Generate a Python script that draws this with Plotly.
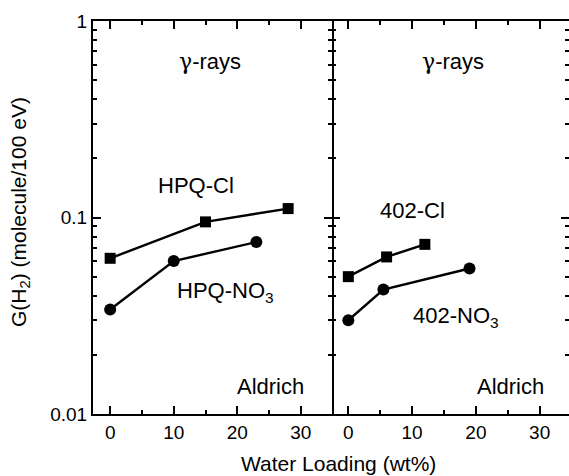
import plotly.graph_objects as go

# ---- data ----
hpq_cl_x = [0, 15, 28]
hpq_cl_y = [0.062, 0.095, 0.111]
hpq_no3_x = [0, 10, 23]
hpq_no3_y = [0.034, 0.060, 0.075]
s402_cl_x = [0, 6, 12]
s402_cl_y = [0.050, 0.063, 0.073]
s402_no3_x = [0, 5.5, 19]
s402_no3_y = [0.030, 0.043, 0.055]

y_tick_vals = [0.01, 0.1, 1]
y_tick_text = ["0.01", "0.1", "1"]
x_tick_vals = [0, 10, 20, 30]
x_minor_vals = [5, 15, 25]
y_minor_vals = [m * 10.0 ** e for e in (-2, -1) for m in range(2, 10)]

FONT = "Liberation Sans, Arial, Helvetica, sans-serif"
BLACK = "black"

fig = go.Figure()

def add_series(x, y, symbol, xa, ya):
    fig.add_trace(go.Scatter(
        x=x, y=y, mode="lines+markers",
        line=dict(color=BLACK, width=2.4),
        marker=dict(symbol=symbol, size=12 if symbol == "circle" else 11, color=BLACK),
        xaxis=xa, yaxis=ya, showlegend=False, hoverinfo="skip"))

add_series(hpq_cl_x, hpq_cl_y, "square", "x", "y")
add_series(hpq_no3_x, hpq_no3_y, "circle", "x", "y")
add_series(s402_cl_x, s402_cl_y, "square", "x2", "y2")
add_series(s402_no3_x, s402_no3_y, "circle", "x2", "y2")

# empty traces so that the overlay (minor-tick) subplots get drawn
for xa, ya in (("x3", "y3"), ("x4", "y4")):
    fig.add_trace(go.Scatter(x=[], y=[], xaxis=xa, yaxis=ya, showlegend=False,
                             hoverinfo="skip"))

tickfont = dict(family=FONT, size=19, color=BLACK)

def x_axis(rng, domain, anchor, vals, length, labels, overlay=None):
    d = dict(range=rng, anchor=anchor, tickmode="array", tickvals=vals,
             ticks="inside", ticklen=length, tickwidth=1.5, tickcolor=BLACK,
             showline=True, linewidth=2, linecolor=BLACK, mirror="ticks",
             showgrid=False, zeroline=False, showticklabels=labels, tickfont=tickfont)
    if overlay:
        d["overlaying"] = overlay
    else:
        d["domain"] = domain
    return d

def y_axis(anchor, vals, length, labels, line, overlay=None):
    d = dict(type="log", range=[-2, 0], anchor=anchor, tickmode="array", tickvals=vals,
             ticks="inside", ticklen=length, tickwidth=1.5, tickcolor=BLACK,
             showline=line, linewidth=2, linecolor=BLACK, mirror="ticks",
             showgrid=False, zeroline=False, showticklabels=labels, tickfont=tickfont)
    if labels:
        d["ticktext"] = y_tick_text
    if overlay:
        d["overlaying"] = overlay
    return d

split = (332 - 93) / 476.0
r1 = [-2.7, 34.9]
r2 = [-2.56, 34.6]

fig.update_layout(
    width=569, height=476,
    margin=dict(l=93, r=0, t=21, b=62),
    paper_bgcolor="white", plot_bgcolor="white",
    font=dict(family=FONT, color=BLACK),
    xaxis=x_axis(r1, [0, split], "y", x_tick_vals, 8, True),
    xaxis2=x_axis(r2, [split, 1], "y2", x_tick_vals, 8, True),
    xaxis3=x_axis(r1, None, "y3", x_minor_vals, 4, False, overlay="x"),
    xaxis4=x_axis(r2, None, "y4", x_minor_vals, 4, False, overlay="x2"),
    yaxis=y_axis("x", y_tick_vals, 8, True, True),
    yaxis2=y_axis("x2", y_tick_vals, 8, False, False),
    yaxis3=y_axis("x3", y_minor_vals, 4, False, True, overlay="y"),
    yaxis4=y_axis("x4", y_minor_vals, 4, False, False, overlay="y2"),
)

ann_font = dict(family=FONT, size=22, color=BLACK)
gamma = "<span style='font-family:DejaVu Serif'>γ</span>-rays"
anns = [
    ("x", "y", 15.7, -0.2036, gamma, "center"),
    ("x2", "y2", 16.4, -0.2036, gamma, "center"),
    ("x", "y", 13.5, -0.8346, "HPQ-Cl", "center"),
    ("x", "y", 10.2, -1.38, "HPQ-NO<sub>3</sub>", "left"),
    ("x2", "y2", 9.8, -1.505, "402-NO<sub>3</sub>", "left"),
    ("x2", "y2", 10.1, -0.9654, "402-Cl", "center"),
    ("x", "y", 25.2, -1.861, "Aldrich", "center"),
    ("x2", "y2", 25.4, -1.861, "Aldrich", "center"),
]
for xr, yr, ax, ay, txt, xanc in anns:
    fig.add_annotation(xref=xr, yref=yr, x=ax, y=ay, text=txt, showarrow=False,
                       xanchor=xanc, yanchor="middle", font=ann_font)

fig.add_annotation(xref="paper", yref="paper", x=(338 - 93) / 476.0, y=(476 - 62 - 464) / 393.0,
                   text="Water Loading (wt%)", showarrow=False, xanchor="center",
                   yanchor="middle", font=dict(family=FONT, size=21, color=BLACK))
fig.add_annotation(xref="paper", yref="paper", x=(20 - 93) / 476.0, y=1 - (212 - 21) / 393.0,
                   text="G(H<sub>2</sub>) (molecule/100 eV)", showarrow=False, textangle=-90,
                   xanchor="center", yanchor="middle", font=dict(family=FONT, size=21, color=BLACK))

fig.write_html("out.html")
